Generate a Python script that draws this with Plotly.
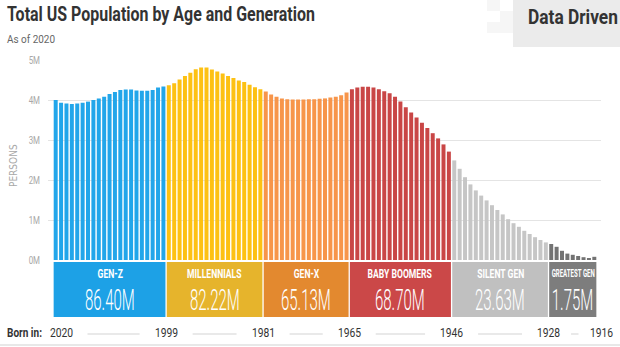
import json
import plotly.graph_objects as go

# ---- data (millions of persons, one bar per single year of age, youngest first) ----
generations = ["GEN-Z", "MILLENNIALS", "GEN-X", "BABY BOOMERS", "SILENT GEN", "GREATEST GEN"]
totals = ["86.40M", "82.22M", "65.13M", "68.70M", "23.63M", "1.75M"]
born_years = ["2020", "1999", "1981", "1965", "1946", "1928", "1916"]

gen_z = [4.00, 3.93, 3.91, 3.90, 3.91, 3.93, 3.96, 4.00, 4.04, 4.08, 4.15,
         4.20, 4.25, 4.26, 4.26, 4.24, 4.23, 4.23, 4.25, 4.31, 4.34]
millennials = [4.37, 4.42, 4.51, 4.60, 4.68, 4.77, 4.81, 4.81, 4.76,
               4.71, 4.66, 4.60, 4.55, 4.49, 4.45, 4.38, 4.32, 4.27]
gen_x = [4.21, 4.14, 4.08, 4.04, 4.02, 4.01, 4.01, 4.01,
         4.02, 4.02, 4.03, 4.04, 4.06, 4.08, 4.12, 4.19]
boomers = [4.27, 4.31, 4.33, 4.33, 4.31, 4.27, 4.22, 4.17, 4.08, 3.96,
           3.82, 3.69, 3.56, 3.43, 3.30, 3.17, 3.04, 2.89, 2.71]
silent = [2.49, 2.28, 2.07, 1.89, 1.74, 1.61, 1.49, 1.37, 1.25,
          1.14, 1.02, 0.92, 0.83, 0.73, 0.65, 0.57, 0.50, 0.44]
greatest = [0.40, 0.33, 0.23, 0.16, 0.13, 0.10, 0.07, 0.04, 0.08]

series = [gen_z, millennials, gen_x, boomers, silent, greatest]
bar_colors = ["#22A6EA", "#FDC113", "#F7954A", "#C94646", "#C6C6C6", "#737373"]
box_colors = ["#1DA1E6", "#E6B42C", "#E3892F", "#CB4848", "#C0C0C0", "#7D7D7D"]

# ---- layout geometry ----
W, H = 620, 347
L, R, T, B = 48, 19, 60, 87
PLOT_W, PLOT_H = W - L - R, H - T - B
N = sum(len(s) for s in series)
X0_BARS = 53.0                       # left edge of first bar, px
BW = (597.0 - X0_BARS) / N           # px per bar slot
X_MIN = (L - X0_BARS) / BW - 0.5
X_MAX = X_MIN + PLOT_W / BW

FONT = "Roboto, DejaVu Sans Condensed, sans-serif"


def px_x(xp):
    """pixel x -> paper x"""
    return (xp - L) / PLOT_W


def px_y(yp):
    """pixel y -> paper y"""
    return (T + PLOT_H - yp) / PLOT_H


fig = go.Figure()

start = 0
bounds = []
for name, vals, col in zip(generations, series, bar_colors):
    idx = list(range(start, start + len(vals)))
    fig.add_trace(go.Bar(x=idx, y=vals, marker=dict(color=col, line=dict(width=0)),
                         name=name, hoverinfo="skip"))
    bounds.append((start, start + len(vals) - 1))
    start += len(vals)

shapes = []
annotations = []
condense = {}   # annotation index -> horizontal squeeze (scale or target width)


def add_text(text, x, y, size, color, xref="paper", anchor="center",
             scale=None, width=None, weight="normal", **kw):
    i = len(annotations)
    annotations.append(dict(x=x, y=y, xref=xref, yref="paper", text=text,
                            showarrow=False, xanchor=anchor, yanchor="middle",
                            font=dict(family=FONT, size=size, color=color, weight=weight),
                            **kw))
    if scale or width:
        condense[str(i)] = dict(s=scale, w=width, a=anchor)


# generation boxes with name and total
for (a, b), name, tot, col in zip(bounds, generations, totals, box_colors):
    shapes.append(dict(type="rect", xref="x", yref="paper",
                       x0=a - 0.5 + 0.12, x1=b + 0.5 - 0.12,
                       y0=px_y(317), y1=px_y(262),
                       fillcolor=col, line=dict(width=0), layer="above"))
    cx = (a + b) / 2
    small = name == "GREATEST GEN"
    add_text(f"<b>{name}</b>", cx, px_y(273.5), 10.5 if small else 13, "white",
             xref="x", scale=0.58 if small else 0.66)
    add_text(tot, cx, px_y(299), 30, "white", xref="x", scale=0.5, weight=300)

# "Born in" row with year labels at generation boundaries
label_px = [61.0]
for a, b in bounds:
    label_px.append(X0_BARS + (b + 1) * BW)
label_px[-1] += 4
half = 11.5
row_y = 333
add_text("<b>Born in:</b>", px_x(5), px_y(row_y), 12, "#333333", anchor="left", width=35)
for yr, xp in zip(born_years, label_px):
    add_text(yr, px_x(xp), px_y(row_y), 12, "#333333", scale=0.86)
for xa, xb in zip(label_px[:-1], label_px[1:]):
    pad = 15 if xb - xa > 60 else 11
    shapes.append(dict(type="line", xref="paper", yref="paper",
                       x0=px_x(xa + half + pad), x1=px_x(xb - half - pad),
                       y0=px_y(row_y + 1), y1=px_y(row_y + 1),
                       line=dict(color="#E2E2E2", width=1.5)))

# bottom rule
shapes.append(dict(type="line", xref="paper", yref="paper",
                   x0=px_x(0), x1=px_x(W), y0=px_y(345), y1=px_y(345),
                   line=dict(color="#E0E0E0", width=1.5)))

# brand block, top right
for (x0, y0, x1, y1) in [(487, 0, 500, 11), (500, 11, 513, 22), (487, 22, 513, 33)]:
    shapes.append(dict(type="rect", xref="paper", yref="paper",
                       x0=px_x(x0), x1=px_x(x1), y0=px_y(y1), y1=px_y(y0),
                       fillcolor="#F6F6F6", line=dict(width=0)))
shapes.append(dict(type="rect", xref="paper", yref="paper",
                   x0=px_x(513), x1=px_x(W + 2), y0=px_y(47), y1=px_y(-2),
                   fillcolor="#EBEBEB", line=dict(width=0)))
add_text("<b>Data Driven</b>", px_x(526), px_y(17), 20, "#333333", anchor="left", width=90)

# title and subtitle
add_text("<b>Total US Population by Age and Generation</b>", px_x(5), px_y(14), 21,
         "#333333", anchor="left", width=308)
add_text("As of 2020", px_x(5), px_y(39), 11, "#666666", anchor="left", width=48)

# y-axis title
annotations.append(dict(x=px_x(13), y=px_y(166), xref="paper", yref="paper",
                        text="PERSONS", textangle=-90, showarrow=False,
                        xanchor="center", yanchor="middle",
                        font=dict(family="DejaVu Sans Condensed, sans-serif", size=10,
                                  color="#A8A8A8")))

fig.update_layout(
    width=W, height=H,
    margin=dict(l=L, r=R, t=T, b=B, pad=0),
    paper_bgcolor="white", plot_bgcolor="white",
    showlegend=False, barmode="overlay", bargap=0.26,
    shapes=shapes, annotations=annotations,
    xaxis=dict(range=[X_MIN, X_MAX], showticklabels=False, showgrid=False,
               zeroline=False, showline=False, ticks="", fixedrange=True),
    yaxis=dict(range=[0, 5], tickvals=[0, 1, 2, 3, 4, 5],
               ticktext=["0M", "1M", "2M", "3M", "4M", "5M"],
               showgrid=True, gridcolor="#E4E4E4", gridwidth=1,
               zeroline=False, showline=False, ticks="", ticklabelstandoff=7,
               tickfont=dict(family=FONT, size=11, color="#A8A8A8"),
               fixedrange=True),
    hovermode=False,
)

# Narrow the text horizontally to get a condensed typeface look.
squeeze_js = """
var gd = document.getElementById('{plot_id}');
var cfg = CFG;
function squeeze(t, s, anchor) {
  var bb = t.getBBox();
  if (!bb.width) return;
  var cx = anchor === 'left' ? bb.x : (anchor === 'right' ? bb.x + bb.width : bb.x + bb.width / 2);
  var prev = t.getAttribute('transform') || '';
  t.setAttribute('transform', prev + ' translate(' + cx + ',0) scale(' + s + ',1) translate(' + (-cx) + ',0)');
}
gd.querySelectorAll('g.annotation').forEach(function (g) {
  var c = cfg[g.getAttribute('data-index')];
  if (!c) return;
  var t = g.querySelector('text.annotation-text');
  if (!t) return;
  var s = c.s;
  if (!s) { s = c.w / t.getBBox().width; }
  squeeze(t, s, c.a);
});
gd.querySelectorAll('.ytick text').forEach(function (t) { squeeze(t, 0.72, 'right'); });
""".replace("CFG", json.dumps(condense))

fig.write_html("out.html", config={"displayModeBar": False}, post_script=squeeze_js)
